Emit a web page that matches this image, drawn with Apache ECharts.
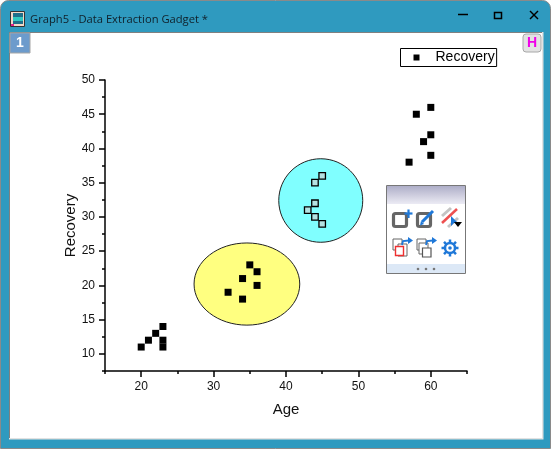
<!DOCTYPE html>
<html><head><meta charset="utf-8">
<style>html,body{margin:0;padding:0;background:#fff}#c{width:551px;height:449px}</style>
<script src="https://cdn.jsdelivr.net/npm/echarts@6/dist/echarts.min.js"></script>
</head><body><div id="c"></div>
<script>
const ages = [20,21,22,23,23,23, 32,34,34,35,36,36, 43,44,44,44,45,45, 57,58,59,60,60,60];
const recovery = [11,12,13,14,12,11, 19,18,21,23,22,20, 31,30,32,35,36,29, 38,45,41,46,42,39];
const selected = [12,13,14,15,16,17];
const xMajorTicks = [20,30,40,50,60];
const xMinorTicks = [15,25,35,45,55,65];
const yMajorTicks = [10,15,20,25,30,35,40,45,50];
const yMinorTicks = [7.5,12.5,17.5,22.5,27.5,32.5,37.5,42.5,47.5];
const regionYellow = [[34.6,20.2,7.3,6.0]];
const regionCyan = [[44.8,32.4,5.8,6.1]];
const FONT = '"Liberation Sans", Arial, sans-serif';
const BLUE = '#1f78d8', GREY = '#666';

const chart = echarts.init(document.getElementById('c'), null, {renderer:'canvas'});

function ellipseSeries(name, data, fill){
  return {type:'custom', name, coordinateSystem:'cartesian2d', z:1, silent:true, data,
    encode:{x:0,y:1},
    renderItem(p, api){
      const c = api.coord([api.value(0), api.value(1)]);
      const e = api.coord([api.value(0)+api.value(2), api.value(1)+api.value(3)]);
      return {type:'ellipse', shape:{cx:c[0], cy:c[1], rx:Math.abs(e[0]-c[0]), ry:Math.abs(e[1]-c[1])},
        style:{fill, stroke:'#222', lineWidth:1}};
    }};
}
const baseAxis = {axisLine:{show:true,onZero:false,lineStyle:{color:'#000',width:1.5}}, splitLine:{show:false}};
const ghost = {axisLine:{show:false}, axisLabel:{show:false}, splitLine:{show:false}};

const r = (x,y,w,h,fill,extra={}) => ({type:'rect', z:extra.z ?? -10, shape:{x,y,width:w,height:h,r:extra.r||0},
  style:{fill,stroke:extra.stroke||null,lineWidth:extra.lw||1}, silent:true});
const l = (x1,y1,x2,y2,stroke,lw=1.5,z=50) => ({type:'line', z, shape:{x1,y1,x2,y2}, style:{stroke,lineWidth:lw}, silent:true});
const t = (x,y,text,font,fill,z=50,extra={}) => ({type:'text', z, x, y, silent:true,
  style:Object.assign({text,font,fill,textAlign:'left',textVerticalAlign:'middle'},extra)});
const poly = (points,fill,z=50) => ({type:'polygon', z, shape:{points}, style:{fill}, silent:true});
const box = (x,y,w,h,stroke,lw=1.5,fill='#fff',z=50,rad=0) => ({type:'rect', z, shape:{x,y,width:w,height:h,r:rad}, style:{fill,stroke,lineWidth:lw}, silent:true});
function gear(cx,cy){
  const out=[];
  for(let i=0;i<8;i++){const a=i*Math.PI/4; out.push(l(cx+4*Math.cos(a),cy+4*Math.sin(a),cx+8.5*Math.cos(a),cy+8.5*Math.sin(a),BLUE,2.5,51));}
  out.push({type:'circle',z:52,shape:{cx,cy,r:5},style:{fill:'#fff',stroke:BLUE,lineWidth:2.5},silent:true});
  out.push({type:'circle',z:53,shape:{cx,cy,r:1.8},style:{fill:BLUE},silent:true});
  return out;
}
function arrow(x,y){
  return [{type:'polyline',z:52,shape:{points:[[x,y+6],[x+1,y+2],[x+7,y+1.5]]},style:{stroke:BLUE,lineWidth:1.8,fill:null},silent:true},
          poly([[x+6,y-2],[x+11,y+1.5],[x+6,y+5]],BLUE,52)];
}

const graphics = [
  // window
  {type:'rect',z:-12,shape:{x:0.5,y:0.5,width:550,height:448,r:[8,8,0,0]},style:{fill:'#2f9abf',stroke:'#8a8a8a',lineWidth:1},silent:true},
  r(9,32,534.5,407.5,'#e2e2e2'),
  r(9,32,533,406,'#808080'),
  r(10,33,532,405,'#ffffff'),
  // title bar
  r(10.5,11.5,14,15,'#f2d8c8',{z:50,stroke:'#333'}),
  r(13,13,10,4,'#1f6f8a',{z:51}), r(13,17,10,4,'#2fc8c0',{z:51}), r(13,21,10,3,'#1f6f8a',{z:51}), r(11,24,3,2,'#e0208a',{z:52}),
  t(30,20,'Graph5 - Data Extraction Gadget *','11.2px "Open Sans", sans-serif','#10202a'),
  l(458,14.5,468,14.5,'#000',1.5),
  box(494.5,12.5,7,6,'#000',1.5,'transparent'),
  l(530,11,538,19,'#000',1.5), l(538,11,530,19,'#000',1.5),
  // badges
  r(10,33,20,20,'#6c9bcc',{z:50,stroke:'#a6a6a6'}),
  t(20,43,'1','bold 14px '+FONT,'#fff',51,{textAlign:'center'}),
  r(523,34,18,18,'#e2e2e2',{z:50,stroke:'#a8a8a8',r:3}),
  t(532,43.5,'H','bold 14px '+FONT,'#f000e8',51,{textAlign:'center'}),
  // toolbar panel
  box(386.5,185.5,79,88,'#777',1,'#fff',40),
  {type:'rect',z:41,shape:{x:387,y:186,width:78,height:18},silent:true,
    style:{fill:new echarts.graphic.LinearGradient(0,0,0,1,[{offset:0,color:'#aeaec8'},{offset:1,color:'#ecebf4'}])}},
  r(387,264,78,9,'#dce8f6',{z:41}),
  ...[418,426,434].map(x=>({type:'circle',z:42,shape:{cx:x,cy:269,r:1.3},style:{fill:'#777'},silent:true})),
  // toolbar row 1
  box(393.5,213.5,13,13,GREY,3.2,'#fff',50,2),
  l(408.5,209.5,408.5,218,BLUE,2.2,52), l(404.5,213.5,412.5,213.5,BLUE,2.2,52),
  box(417.5,213.5,13,13,GREY,3.2,'#fff',50,2),
  l(422,222,433,211,BLUE,3,52), poly([[420,225.5],[424,224],[421,221]],BLUE,52),
  l(442,216,451,208,'#c4c4c4',3,51), l(448,227,458,218,'#c4c4c4',3,51),
  l(442,223,457,209,'#ee5050',2.5,52),
  poly([[451,216],[451,226],[454,223],[459,224]],BLUE,53),
  poly([[454,222],[462,222],[458,227]],'#000',54),
  // toolbar row 2
  box(393,239,9,11,GREY,1,'#fff',50), box(398,244,9,12,GREY,1,'#fff',50),
  box(395.5,246.5,8,9,'#ee3030',1.4,'#fff',51),
  ...arrow(402,239),
  box(417,239,9,11,GREY,1,'#fff',50), box(419,243,9,11,GREY,1,'#fff',50),
  box(422.5,248,8.5,9,'#555',1.2,'#fff',51),
  ...arrow(426,239),
  ...gear(450,248)
];

chart.setOption({
  animation:false,
  backgroundColor:'#fff',
  textStyle:{fontFamily:FONT},
  grid:{left:105,top:80,width:362,height:291,containLabel:false},
  graphic:{elements:graphics},
  legend:{data:[{name:'Recovery',icon:'rect'}], left:400.5, top:48.5, width:95, height:19, padding:[2,2,2,13],
    itemWidth:6, itemHeight:6, borderColor:'#000', borderWidth:1, backgroundColor:'#fff', selectedMode:false, orient:'horizontal',
    textStyle:{fontFamily:FONT,fontSize:14,color:'#000',padding:[0,0,0,11]}},
  xAxis:[
    Object.assign({type:'value',min:15,max:65,name:'Age',nameLocation:'middle',nameGap:31,nameMoveOverlap:false,
      nameTextStyle:{fontSize:15,color:'#111',fontFamily:FONT},
      axisTick:{show:true,customValues:xMajorTicks,length:6,inside:false,lineStyle:{color:'#000',width:1.5}},
      axisLabel:{show:true,customValues:xMajorTicks,margin:10,fontSize:12,color:'#111',fontFamily:FONT}},baseAxis),
    Object.assign({type:'value',min:15,max:65,position:'bottom',
      axisTick:{show:true,customValues:xMinorTicks,length:3,lineStyle:{color:'#000',width:1.5}}},ghost)
  ],
  yAxis:[
    Object.assign({type:'value',min:7.5,max:50,name:'Recovery',nameLocation:'middle',nameGap:27,nameMoveOverlap:false,
      nameTextStyle:{fontSize:15,color:'#111',fontFamily:FONT},
      axisTick:{show:true,customValues:yMajorTicks,length:6,lineStyle:{color:'#000',width:1.5}},
      axisLabel:{show:true,customValues:yMajorTicks,margin:10,fontSize:12,color:'#111',fontFamily:FONT}},baseAxis),
    Object.assign({type:'value',min:7.5,max:50,position:'left',
      axisTick:{show:true,customValues:yMinorTicks,length:3,lineStyle:{color:'#000',width:1.5}}},ghost)
  ],
  series:[
    ellipseSeries('Region A',regionYellow,'#ffff80'),
    ellipseSeries('Region B',regionCyan,'#80ffff'),
    {type:'scatter',name:'Recovery',z:5,symbol:'rect',symbolSize:7,silent:true,
     itemStyle:{color:'#000',opacity:1},
     data:ages.map((a,i)=>selected.includes(i)
       ? {value:[a,recovery[i]],symbolSize:6.5,itemStyle:{color:'#b4e2e2',borderColor:'#000',borderWidth:1.3}}
       : [a,recovery[i]])}
  ]
});
</script></body></html>
